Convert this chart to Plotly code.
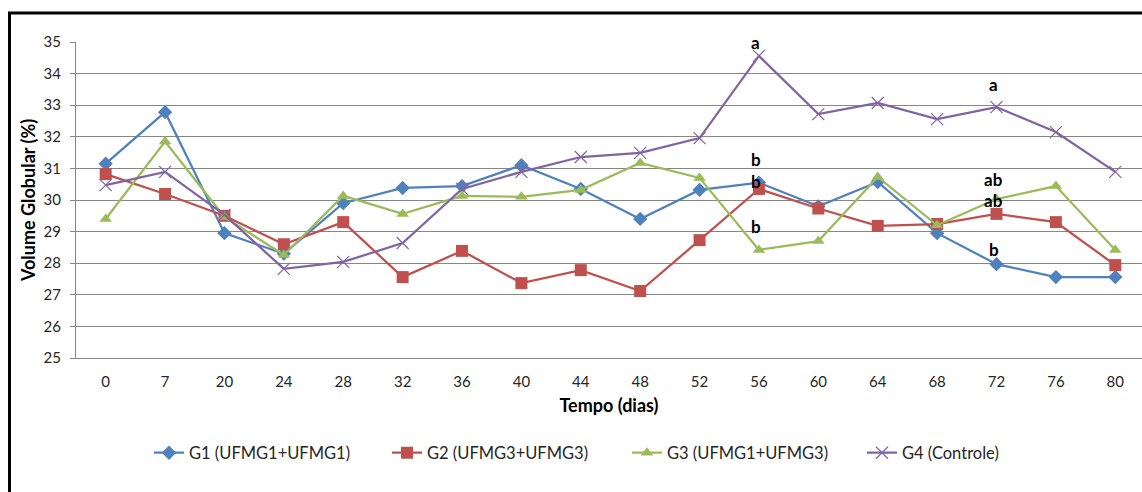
import plotly.graph_objects as go

days = ["0", "7", "20", "24", "28", "32", "36", "40", "44", "48", "52", "56", "60", "64", "68", "72", "76", "80"]

g1 = [31.15, 32.78, 28.95, 28.3, 29.9, 30.38, 30.44, 31.1, 30.35, 29.4, 30.32, 30.55, 29.8, 30.57, 28.95, 27.97, 27.56, 27.56]
g2 = [30.82, 30.19, 29.5, 28.6, 29.3, 27.56, 28.39, 27.37, 27.78, 27.12, 28.73, 30.35, 29.73, 29.18, 29.24, 29.56, 29.3, 27.94]
g3 = [29.4, 31.85, 29.46, 28.26, 30.13, 29.56, 30.13, 30.1, 30.32, 31.17, 30.7, 28.42, 28.7, 30.73, 29.2, 30.03, 30.44, 28.42]
g4 = [30.47, 30.89, 29.53, 27.82, 28.04, 28.64, 30.35, 30.89, 31.36, 31.49, 31.96, 34.56, 32.72, 33.07, 32.56, 32.94, 32.15, 30.89]

names = ["G1 (UFMG1+UFMG1)", "G2 (UFMG3+UFMG3)", "G3 (UFMG1+UFMG3)", "G4 (Controle)"]
colors = ["#4F81BD", "#C0504D", "#9BBB59", "#8064A2"]

ann_text = ["a", "b", "b", "b", "a", "ab", "ab", "b"]
ann_day = ["56", "56", "56", "56", "72", "72", "72", "72"]
ann_y = [34.97, 31.27, 30.58, 29.16, 33.64, 30.66, 30.0, 28.42]

FONT = "Lato"

W, H = 1142, 492
L, R, T, B = 76, 0, 42, 134
pw, ph = W - L - R, H - T - B


def px_x(p):
    return (p - L) / pw


def px_y(p):
    return (H - B - p) / ph


fig = go.Figure()
series = [g1, g2, g3, g4]
markers = [
    dict(symbol="diamond", size=11),
    dict(symbol="square", size=12),
    dict(symbol="triangle-up", size=11),
    dict(symbol="x-thin", size=12, line=dict(width=1.2, color=colors[3])),
]
legend_ids = ["legend", "legend2", "legend3", "legend4"]
legend_x = [149, 387, 627, 862]

for s, n, c, m, lid in zip(series, names, colors, markers, legend_ids):
    m = dict(m)
    m["color"] = c
    fig.add_trace(go.Scatter(x=days, y=s, name=n, mode="lines+markers",
                             line=dict(color=c, width=2.25), marker=m,
                             legend=lid))

for t, d, y in zip(ann_text, ann_day, ann_y):
    fig.add_annotation(x=days.index(d), y=y, text="<b>%s</b>" % t, showarrow=False,
                       xshift=-3, font=dict(family=FONT, size=17, color="#000"))

# outer frame (top and left black border)
fig.add_shape(type="line", xref="paper", yref="paper",
              x0=px_x(8), x1=px_x(1142), y0=px_y(13), y1=px_y(13),
              line=dict(color="#000", width=3))
fig.add_shape(type="line", xref="paper", yref="paper",
              x0=px_x(9.5), x1=px_x(9.5), y0=px_y(12), y1=px_y(492),
              line=dict(color="#000", width=3))

legend_common = dict(orientation="h", xref="container", yref="container",
                     xanchor="left", y=(H - 453) / H, yanchor="middle",
                     font=dict(family=FONT, size=16.5, color="#262626"),
                     itemwidth=30, bgcolor="rgba(0,0,0,0)")

layout_legends = {}
for lid, lx in zip(legend_ids, legend_x):
    d = dict(legend_common)
    d["x"] = lx / W
    layout_legends[lid] = d

fig.update_layout(
    width=W, height=H,
    margin=dict(l=L, r=R, t=T, b=B),
    paper_bgcolor="white", plot_bgcolor="white",
    font=dict(family=FONT, color="#262626"),
    showlegend=True,
    **layout_legends,
    xaxis=dict(type="category", range=[-0.5, 17.45], showgrid=False,
               showline=True, linecolor="#868686", linewidth=1,
               ticks="", tickfont=dict(family=FONT, size=15, color="#262626"),
               ticklabelstandoff=10,
               title=dict(text="<b>Tempo (dias)</b>", standoff=10,
                          font=dict(family=FONT, size=18, color="#000"))),
    yaxis=dict(range=[25, 35], dtick=1, showgrid=True, gridcolor="#868686",
               gridwidth=1, showline=True, linecolor="#868686", linewidth=1,
               ticks="outside", ticklen=5, tickcolor="#868686",
               tickfont=dict(family=FONT, size=15, color="#262626"),
               ticklabelstandoff=6, zeroline=False,
               title=dict(text="<b>Volume Globular (%)</b>", standoff=3,
                          font=dict(family=FONT, size=18, color="#000"))),
)

fig.write_html("out.html")
